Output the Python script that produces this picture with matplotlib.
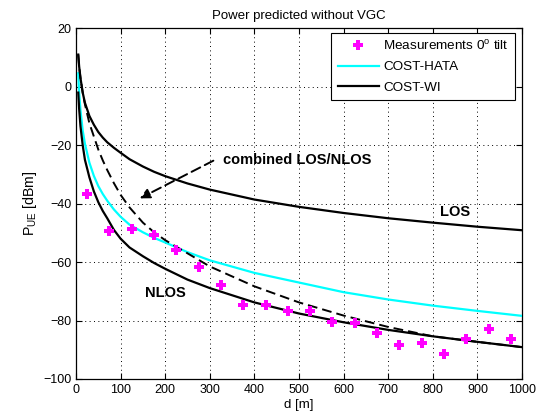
import matplotlib
matplotlib.use("Agg")
import matplotlib.pyplot as plt

plt.rcParams['font.family'] = ['Liberation Sans', 'DejaVu Sans']
plt.rcParams['mathtext.fontset'] = 'custom'
plt.rcParams['mathtext.rm'] = 'Liberation Sans'
plt.rcParams['mathtext.it'] = 'Liberation Sans:italic'

# Measurements (0 deg tilt)
meas_d = [25, 75, 125, 175, 225, 275, 325, 375, 425, 475,
          525, 575, 625, 675, 725, 775, 825, 875, 925, 975]
meas_p = [-36.7, -49.3, -48.7, -50.6, -55.8, -61.8, -68.0, -74.6, -74.6, -76.8,
          -76.7, -80.5, -80.7, -84.1, -88.5, -87.6, -91.5, -86.2, -83.0, -86.4]

# model curves (distance grid)
d_grid = [5, 7, 10, 15, 20, 30, 40, 50, 60, 70, 85, 100, 120, 150, 175, 200,
          250, 300, 400, 500, 600, 700, 800, 900, 1000]
cost_hata = [4.6, -2.0, -8.0, -15.0, -19.5, -26.0, -30.5, -34.0, -36.7, -39.0,
             -42.0, -44.5, -47.2, -49.8, -51.7, -53.3, -56.6, -59.4, -63.7,
             -67.0, -70.3, -72.8, -74.9, -76.7, -78.4]
cost_wi_los = [11.0, 7.0, 3.0, -2.0, -5.5, -10.0, -13.0, -15.5, -17.4, -19.0,
               -20.9, -22.6, -24.8, -27.3, -29.1, -30.6, -33.1, -35.2, -38.6,
               -41.1, -43.2, -45.0, -46.5, -47.9, -49.1]
cost_wi_nlos = [-2.0, -7.5, -13.5, -20.0, -25.0, -31.0, -35.8, -39.5, -42.5,
                -45.0, -49.0, -52.0, -55.0, -58.0, -60.3, -62.3, -66.0, -68.9,
                -73.8, -77.6, -80.6, -83.2, -85.4, -87.3, -89.1]
combined = [11.0, 7.0, 3.0, -2.0, -6.0, -12.5, -17.0, -21.5, -25.2, -28.5,
            -33.0, -37.0, -41.3, -46.5, -49.8, -52.5, -57.0, -61.5, -68.3,
            -73.8, -78.3, -82.2, -85.4, -87.3, -89.1]

fig = plt.figure(figsize=(5.41, 4.19), dpi=100)
ax = fig.add_axes([0.1405, 0.0955, 0.8244, 0.837])

ax.plot(meas_d, meas_p, linestyle='none', marker='P', markersize=7.5,
        color='#ff00ff', markeredgewidth=0, label='Measurements 0$^\\mathrm{o}$ tilt', zorder=5)
ax.plot(d_grid, cost_hata, color='#00ffff', lw=1.6, label='COST-HATA', zorder=3)
ax.plot(d_grid, cost_wi_los, color='black', lw=1.6, label='COST-WI', zorder=4)
ax.plot(d_grid, cost_wi_nlos, color='black', lw=1.6, zorder=4)
ln, = ax.plot(d_grid, combined, color='black', lw=1.4, zorder=4)
ln.set_dashes((5.0, 2.6))

ax.annotate('', xy=(143, -38.2), xytext=(308, -25.3),
            arrowprops=dict(arrowstyle='-|>', color='black', lw=1.4,
                            linestyle=(0, (5.0, 2.6)), mutation_scale=15,
                            shrinkA=0, shrinkB=0))
ax.text(330, -25, 'combined LOS/NLOS', fontsize=10.5, fontweight='bold',
        va='center', ha='left')
ax.text(816, -42.7, 'LOS', fontsize=10.5, fontweight='bold', va='center', ha='left')
ax.text(155, -70.6, 'NLOS', fontsize=10.5, fontweight='bold', va='center', ha='left')

ax.set_xlim(0, 1000)
ax.set_ylim(-100, 20)
ax.set_xticks(range(0, 1001, 100))
ax.set_yticks(range(-100, 21, 20))
ax.tick_params(direction='in', labelsize=9, top=True, right=True, length=4,
               width=0.8)
ax.grid(True, color='black', linestyle=(0, (1, 3.5)), linewidth=0.7)
for s in ax.spines.values():
    s.set_linewidth(0.9)

ax.set_title('Power predicted without VGC', fontsize=9.5, pad=7)
ax.set_xlabel('d [m]', fontsize=9.5, labelpad=2)
ax.set_ylabel('P$_\\mathrm{UE}$ [dBm]', fontsize=10.2, labelpad=3)

leg = ax.legend(loc='upper right', bbox_to_anchor=(0.984, 0.987),
                borderaxespad=0, fontsize=9.7, fancybox=False, framealpha=1,
                edgecolor='black', numpoints=1, handlelength=3.1,
                handletextpad=0.3, labelspacing=0.6, borderpad=0.45)
leg.get_frame().set_linewidth(0.8)

fig.savefig('out.png', dpi=100)
